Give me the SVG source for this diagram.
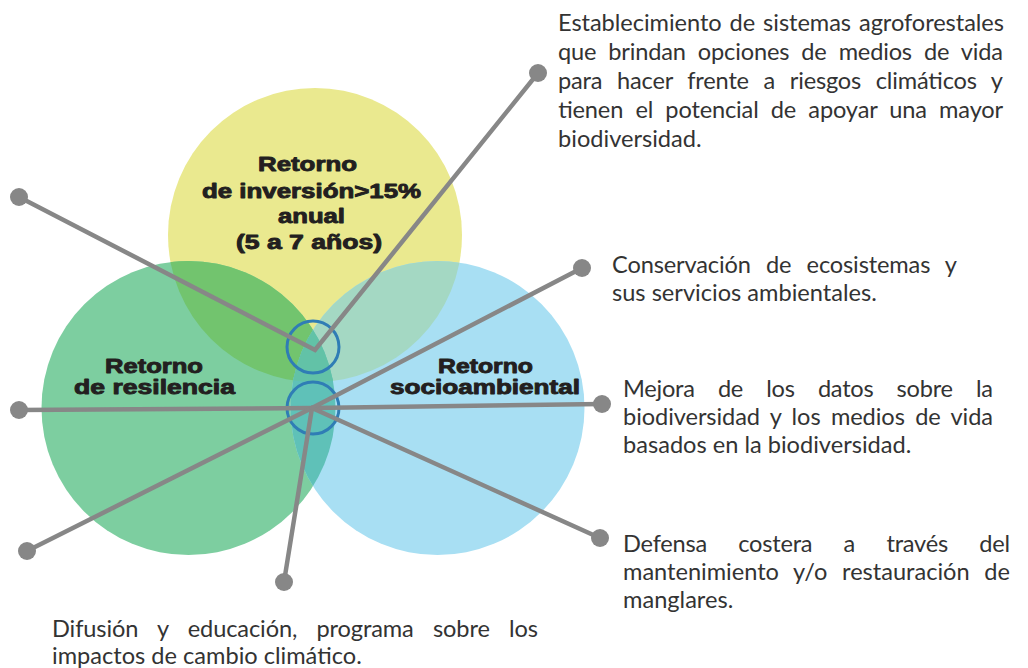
<svg xmlns="http://www.w3.org/2000/svg" width="1028" height="668" viewBox="0 0 1028 668">
<style>
.lbl{font-family:"Liberation Sans",Arial,sans-serif;font-weight:bold;font-size:20px;fill:#231f20;stroke:#231f20;stroke-width:0.9;stroke-linejoin:round}
.txt{font-family:Lato,"Noto Sans",sans-serif;font-size:23.6px;fill:#333333}
.ln{stroke:#878787;stroke-width:4.5;fill:none;stroke-linecap:round;stroke-linejoin:miter}
.dot{fill:#878787}
.hub{fill:none;stroke:#2f7db5;stroke-width:3}
</style>
<defs>
<circle id="cY" cx="315" cy="235" r="147"/>
<circle id="cG" cx="188.5" cy="408" r="147"/>
<circle id="cB" cx="437.5" cy="408" r="147"/>
<clipPath id="clipY"><use href="#cY"/></clipPath>
<clipPath id="clipG"><use href="#cG"/></clipPath>
<clipPath id="clipB"><use href="#cB"/></clipPath>
</defs>
<rect width="1028" height="668" fill="#ffffff"/>
<g id="circles">
<g id="node-inversion"><use href="#cY" fill="#eae98f"/></g>
<g id="node-resiliencia"><use href="#cG" fill="#7dcea0"/></g>
<g id="node-socioambiental"><use href="#cB" fill="#a8dff3"/></g>
<g id="overlaps">
<g clip-path="url(#clipY)"><use href="#cG" fill="#72c46e"/><use href="#cB" fill="#a4d8c3"/></g>
<g clip-path="url(#clipG)"><use href="#cB" fill="#5fc1b8"/></g>
<g clip-path="url(#clipY)"><g clip-path="url(#clipG)"><use href="#cB" fill="#62c2a7"/></g></g>
</g>
</g>
<g id="labels-circles">
<g id="label-inversion">
<text class="lbl" x="258" y="171" textLength="99" lengthAdjust="spacingAndGlyphs">Retorno</text>
<text class="lbl" x="202" y="198" textLength="219" lengthAdjust="spacingAndGlyphs">de inversión&gt;15%</text>
<text class="lbl" x="278" y="223" textLength="67" lengthAdjust="spacingAndGlyphs">anual</text>
<text class="lbl" x="236" y="249" textLength="146" lengthAdjust="spacingAndGlyphs">(5 a 7 años)</text>
</g>
<g id="label-resiliencia">
<text class="lbl" x="105" y="373" textLength="98" lengthAdjust="spacingAndGlyphs">Retorno</text>
<text class="lbl" x="74" y="394" textLength="161" lengthAdjust="spacingAndGlyphs">de resilencia</text>
</g>
<g id="label-socioambiental">
<text class="lbl" x="438" y="373" textLength="95" lengthAdjust="spacingAndGlyphs">Retorno</text>
<text class="lbl" x="390" y="394" textLength="190" lengthAdjust="spacingAndGlyphs">socioambiental</text>
</g>
</g>
<g id="hubs">
<circle class="hub" cx="313" cy="347" r="26"/>
<circle class="hub" cx="313" cy="408" r="26"/>
</g>
<g id="connectors">
<polyline class="ln" points="19,197 315,350 538,73"/>
<line class="ln" x1="312" y1="408" x2="19" y2="410"/>
<line class="ln" x1="312" y1="408" x2="602" y2="404"/>
<line class="ln" x1="312" y1="408" x2="582" y2="268"/>
<line class="ln" x1="312" y1="408" x2="27" y2="551"/>
<line class="ln" x1="312" y1="408" x2="284" y2="582"/>
<line class="ln" x1="312" y1="408" x2="600" y2="538"/>
<circle class="dot" cx="19" cy="197" r="9"/>
<circle class="dot" cx="538" cy="73" r="9"/>
<circle class="dot" cx="19" cy="410" r="9"/>
<circle class="dot" cx="602" cy="404" r="9"/>
<circle class="dot" cx="582" cy="268" r="9"/>
<circle class="dot" cx="27" cy="551" r="9"/>
<circle class="dot" cx="284" cy="582" r="9"/>
<circle class="dot" cx="600" cy="538" r="9"/>
</g>
<g id="text-agroforestales">
<text class="txt" x="558" y="31" word-spacing="2" textLength="446" lengthAdjust="spacing">Establecimiento de sistemas agroforestales</text>
<text class="txt" x="558" y="60" word-spacing="6.2" textLength="445" lengthAdjust="spacing">que brindan opciones de medios de vida</text>
<text class="txt" x="558" y="89" word-spacing="8.8" textLength="445" lengthAdjust="spacing">para hacer frente a riesgos climáticos y</text>
<text class="txt" x="558" y="118" word-spacing="6.3" textLength="445" lengthAdjust="spacing">tienen el potencial de apoyar una mayor</text>
<text class="txt" x="558" y="147">biodiversidad.</text>
</g>
<g id="text-conservacion">
<text class="txt" x="612" y="273" word-spacing="9.3" textLength="345" lengthAdjust="spacing">Conservación de ecosistemas y</text>
<text class="txt" x="612" y="301">sus servicios ambientales.</text>
</g>
<g id="text-datos">
<text class="txt" x="623" y="397" word-spacing="17.4" textLength="370" lengthAdjust="spacing">Mejora de los datos sobre la</text>
<text class="txt" x="623" y="425" word-spacing="4.4" textLength="370" lengthAdjust="spacing">biodiversidad y los medios de vida</text>
<text class="txt" x="623" y="453">basados en la biodiversidad.</text>
</g>
<g id="text-defensa">
<text class="txt" x="623" y="552" word-spacing="25.5" textLength="387" lengthAdjust="spacing">Defensa costera a través del</text>
<text class="txt" x="623" y="580" word-spacing="8.7" textLength="387" lengthAdjust="spacing">mantenimiento y/o restauración de</text>
<text class="txt" x="623" y="608">manglares.</text>
</g>
<g id="text-difusion">
<text class="txt" x="52" y="637" word-spacing="13.4" textLength="486" lengthAdjust="spacing">Difusión y educación, programa sobre los</text>
<text class="txt" x="52" y="664">impactos de cambio climático.</text>
</g>
</svg>
